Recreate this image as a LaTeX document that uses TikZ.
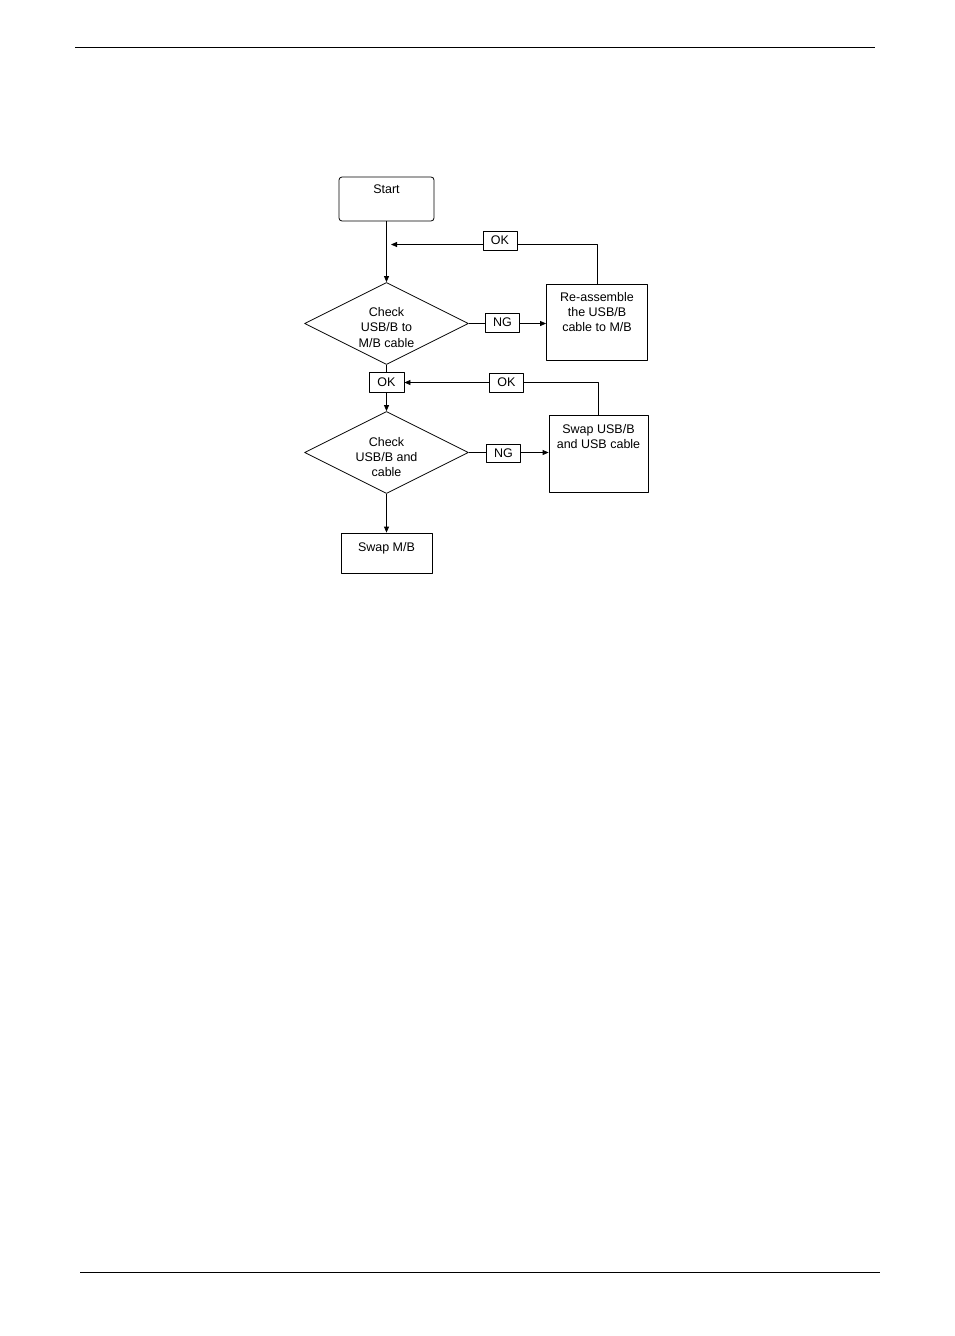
\documentclass[tikz,border=0pt]{standalone}
\usepackage{fontspec}
\setmainfont{Liberation Sans}
\usetikzlibrary{shapes.geometric,arrows.meta,positioning}
\begin{document}
\begin{tikzpicture}[x=1pt, y=-1pt, font=\fontsize{12.5}{15.3}\selectfont, line join=round, line width=0.8pt, >={Triangle[length=6pt,width=5pt]},
	box/.style={draw, inner sep=0pt},
	chk/.style={draw, diamond, aspect=2, inner sep=0pt, minimum width=164pt, minimum height=82pt},
	tag/.style={draw, fill=white, inner sep=0pt, minimum width=34pt, minimum height=19pt},
	txt/.style={align=center, inner sep=0pt}]
	\useasboundingbox (0,0) rectangle (954,1336);
	\draw (75,47) -- (875,47);
	\draw (80,1272) -- (880,1272);
	% boxes
	\node[box, rounded corners=3pt, minimum width=95pt, minimum height=44pt] (start) at (386.5,199) {};
	\node[txt, below=8pt of start.north] (starttxt) {Start};
	\node[chk] (chk1) at (386.5,323.5) {};
	\node[txt] (chk1txt) at (386.5,327.5) {Check\\USB/B to\\M/B cable};
	\node[box, minimum width=101pt, minimum height=76pt] (fix1) at (597,322) {};
	\node[txt, below=8pt of fix1.north] (fix1txt) {Re-assemble\\the USB/B\\cable to M/B};
	\node[chk] (chk2) at (386.5,452.5) {};
	\node[txt] (chk2txt) at (386.5,457) {Check\\USB/B and\\cable};
	\node[box, minimum width=99pt, minimum height=77pt] (fix2) at (598.5,454) {};
	\node[txt, below=9pt of fix2.north] (fix2txt) {Swap USB/B\\and USB cable};
	\node[box, minimum width=91pt, minimum height=40pt] (swapmb) at (386.5,553) {};
	\node[txt, below=9pt of swapmb.north] (swapmbtxt) {Swap M/B};
	\node[tag, minimum width=35pt, minimum height=20pt] (ok3) at (386.5,382.5) {OK};
	% connectors
	\coordinate (ret1) at (391,244.5);
	\draw[->] (start.south) -- (chk1.north);
	\draw[->] (fix1.north) |- (ret1);
	\draw[->] (chk1.east) -- (chk1.east -| fix1.west);
	\draw (chk1.south) -- (ok3.north);
	\draw[->] (ok3.south) -- (chk2.north);
	\draw[->] (fix2.north) |- (ok3.east);
	\draw[->] (chk2.east) -- (chk2.east -| fix2.west);
	\draw[->] (chk2.south) -- (swapmb.north);
	% labels on the lines
	\node[tag] (ok1) at (500,240.5) {OK};
	\node[tag] (ng1) at (502.5,322.5) {NG};
	\node[tag] (ok4) at (506.5,382.5) {OK};
	\node[tag, minimum height=18pt] (ng2) at (503.5,453.5) {NG};
\end{tikzpicture}
\end{document}
